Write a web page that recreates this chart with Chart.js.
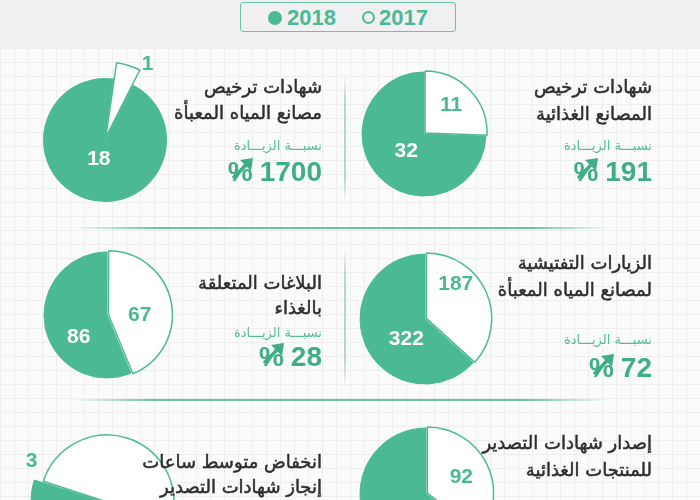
<!DOCTYPE html>
<html>
<head>
<meta charset="utf-8">
<script src="https://cdn.jsdelivr.net/npm/chart.js@4"></script>
<style>
  html, body { margin: 0; padding: 0; }
  body {
    width: 700px; height: 500px; overflow: hidden; position: relative;
    background-color: #fbfbfb;
    background-image:
      linear-gradient(#eeeeee 1px, transparent 1px),
      linear-gradient(90deg, #eeeeee 1px, transparent 1px);
    background-size: 14px 14px;
    background-position: 0 6px;
    font-family: "DejaVu Sans", sans-serif;
  }
  .band { position: absolute; left: 0; top: 0; width: 700px; height: 48px; background: #f0f0f2; }
  .legend {
    position: absolute; left: 240px; top: 2px; width: 214px; height: 28px;
    border: 1.5px solid #6cc4a6; border-radius: 3px;
    font: bold 22px "Liberation Sans", Arial, sans-serif; color: #4cb995;
  }
  .legend .dot { position: absolute; top: 8px; width: 14px; height: 14px; border-radius: 50%; box-sizing: border-box; }
  .legend .lbl { position: absolute; top: 2px; }
  canvas { position: absolute; }
  .t { position: absolute; direction: rtl; white-space: nowrap; color: #2e2e2e; font-size: 18px; line-height: 20px;
       -webkit-text-stroke: 0.5px #2e2e2e; }
  .s { position: absolute; direction: rtl; white-space: nowrap; color: #55bb99; font-size: 13px; line-height: 14px; }
  .n { position: absolute; white-space: nowrap; color: #3fae88; font: bold 28px "Liberation Sans", Arial, sans-serif; line-height: 28px; }
  .pct { position: relative; margin-right: 7px; }
  .pct svg { position: absolute; left: 4px; top: 1px; }
  .hl { position: absolute; height: 2px; background: linear-gradient(90deg, rgba(90,190,155,0), #6cc4a6 15%, #6cc4a6 85%, rgba(90,190,155,0)); }
  .vl { position: absolute; width: 2px; background: linear-gradient(rgba(180,220,205,0), #b5d8ca 20%, #b5d8ca 80%, rgba(180,220,205,0)); }
</style>
</head>
<body>
<div class="band"></div>
<div class="legend">
  <span class="dot" style="left:27px;background:#4cb995;"></span><span class="lbl" style="left:46px;">2018</span>
  <span class="dot" style="left:121px;border:2px solid #4cb995;width:13px;height:13px;"></span><span class="lbl" style="left:138px;">2017</span>
</div>

<div class="hl" style="left:72px;top:227px;width:540px;"></div>
<div class="hl" style="left:72px;top:399px;width:536px;"></div>
<div class="vl" style="left:344px;top:75px;height:128px;"></div>
<div class="vl" style="left:344px;top:248px;height:140px;"></div>

<canvas id="cA" width="220" height="220" style="left:314px;top:24px;"></canvas>
<canvas id="cB" width="220" height="220" style="left:-5px;top:30px;"></canvas>
<canvas id="cB2" width="220" height="220" style="left:-5px;top:30px;"></canvas>
<canvas id="cC" width="220" height="220" style="left:315px;top:209px;"></canvas>
<canvas id="cD" width="220" height="220" style="left:-3px;top:205px;"></canvas>
<canvas id="cE" width="220" height="220" style="left:316px;top:384px;"></canvas>
<canvas id="cF" width="220" height="220" style="left:-3px;top:392px;"></canvas>

<!-- right column -->
<div class="t" style="right:48px;top:77px;">شهادات ترخيص</div>
<div class="t" style="right:48px;top:104px;">المصانع الغذائية</div>
<div class="s" style="right:48px;top:139px;">نسبـــة الزيـــادة</div>
<div class="n" style="right:48px;top:158px;"><span class="pct">%</span>191</div>

<div class="t" style="right:48px;top:253px;">الزيارات التفتيشية</div>
<div class="t" style="right:48px;top:280px;">لمصانع المياه المعبأة</div>
<div class="s" style="right:48px;top:333px;">نسبـــة الزيـــادة</div>
<div class="n" style="right:48px;top:354px;"><span class="pct">%</span>72</div>

<div class="t" style="right:48px;top:433px;">إصدار شهادات التصدير</div>
<div class="t" style="right:48px;top:460px;">للمنتجات الغذائية</div>

<!-- left column -->
<div class="t" style="right:378px;top:77px;">شهادات ترخيص</div>
<div class="t" style="right:378px;top:103px;">مصانع المياه المعبأة</div>
<div class="s" style="right:378px;top:139px;">نسبـــة الزيـــادة</div>
<div class="n" style="right:378px;top:158px;"><span class="pct">%</span>1700</div>

<div class="t" style="right:378px;top:273px;">البلاغات المتعلقة</div>
<div class="t" style="right:378px;top:298px;">بالغذاء</div>
<div class="s" style="right:378px;top:326px;">نسبـــة الزيـــادة</div>
<div class="n" style="right:378px;top:343px;"><span class="pct">%</span>28</div>

<div class="t" style="right:378px;top:452px;">انخفاض متوسط ساعات</div>
<div class="t" style="right:378px;top:477px;">إنجاز شهادات التصدير</div>

<script>
// every pair is [2017, 2018]
const years = ['2017', '2018'];
const foodFactoryLicenses = [11, 32];
const waterFactoryLicenses = [1, 18];
const waterFactoryVisits = [187, 322];
const foodReports = [67, 86];
const exportCertificates = [92, 170];
const exportHours = [48, 3];

const GREEN = '#4cb995';
const WHITE = '#ffffff';
const NONE = 'rgba(0,0,0,0)';

// up-right arrow over each % sign
const arrowSvg = '<svg width="22" height="22" viewBox="0 0 22 22">' +
    '<line x1="2" y1="20" x2="15" y2="7" stroke="#3fae88" stroke-width="3.5" stroke-linecap="round"/>' +
    '<polygon points="21,1 8,3 19,14" fill="#3fae88"/></svg>';
document.querySelectorAll('.pct').forEach(el => el.insertAdjacentHTML('beforeend', arrowSvg));

// draws the value of each slice, [radius fraction, angle shift in degrees]
const sliceLabels = {
    id: 'sliceLabels',
    afterDatasetsDraw(chart, args, opts) {
        const ctx = chart.ctx;
        const meta = chart.getDatasetMeta(0);
        const data = chart.data.datasets[0].data;
        meta.data.forEach((arc, i) => {
            const p = opts.pos[i];
            if (!p) return;
            const {x, y, startAngle, endAngle, outerRadius} =
                arc.getProps(['x', 'y', 'startAngle', 'endAngle', 'outerRadius'], true);
            const a = (startAngle + endAngle) / 2 + p[1] * Math.PI / 180;
            const r = outerRadius * p[0];
            ctx.save();
            ctx.font = 'bold 21px "Liberation Sans", Arial, sans-serif';
            ctx.fillStyle = opts.colors[i];
            ctx.textAlign = 'center';
            ctx.textBaseline = 'middle';
            ctx.fillText(data[i], x + Math.cos(a) * r, y + Math.sin(a) * r);
            ctx.restore();
        });
    }
};

function makePie(id, values, o) {
    new Chart(document.getElementById(id), {
        type: 'pie',
        data: {
            labels: years,
            datasets: [{
                data: values,
                backgroundColor: o.fill || [WHITE, GREEN],
                borderColor: o.border || [GREEN, GREEN],
                borderWidth: o.borderWidth || [1.5, 1],
                offset: o.offset || [6, 0],
            }],
        },
        options: {
            responsive: false,
            animation: false,
            radius: o.radius,
            rotation: o.rotation || 0,
            layout: {padding: 0},
            plugins: {
                legend: {display: false},
                tooltip: {enabled: false},
                sliceLabels: {pos: o.labels, colors: o.labelColors || [GREEN, WHITE]},
            },
        },
        plugins: [sliceLabels],
    });
}

makePie('cA', foodFactoryLicenses, {radius: 62, labels: [[0.64, -3], [0.4, 0]]});
// the 1-licence wedge is drawn on its own, longer than the disc
makePie('cB', waterFactoryLicenses, {radius: 62, rotation: 8, fill: [GREEN, GREEN], borderWidth: [0, 0],
    offset: [0, 0], labels: [null, [0.33, 0]]});
makePie('cB2', waterFactoryLicenses, {radius: 74, rotation: 8, fill: [WHITE, NONE], border: [GREEN, NONE],
    borderWidth: [1.5, 0], offset: [10, 0], labels: [[1.17, 12], null]});
makePie('cC', waterFactoryVisits, {radius: 65, labels: [[0.72, -25], [0.42, -23]]});
makePie('cD', foodReports, {radius: 63, labels: [[0.52, 11], [0.57, -27]]});
makePie('cE', exportCertificates, {radius: 66, labels: [[0.59, 2], [0.5, 0]]});
makePie('cF', exportHours, {radius: 67, rotation: -72, offset: [0, 22], labels: [null, [1.28, 21]],
    labelColors: [GREEN, GREEN]});
</script>
</body>
</html>
